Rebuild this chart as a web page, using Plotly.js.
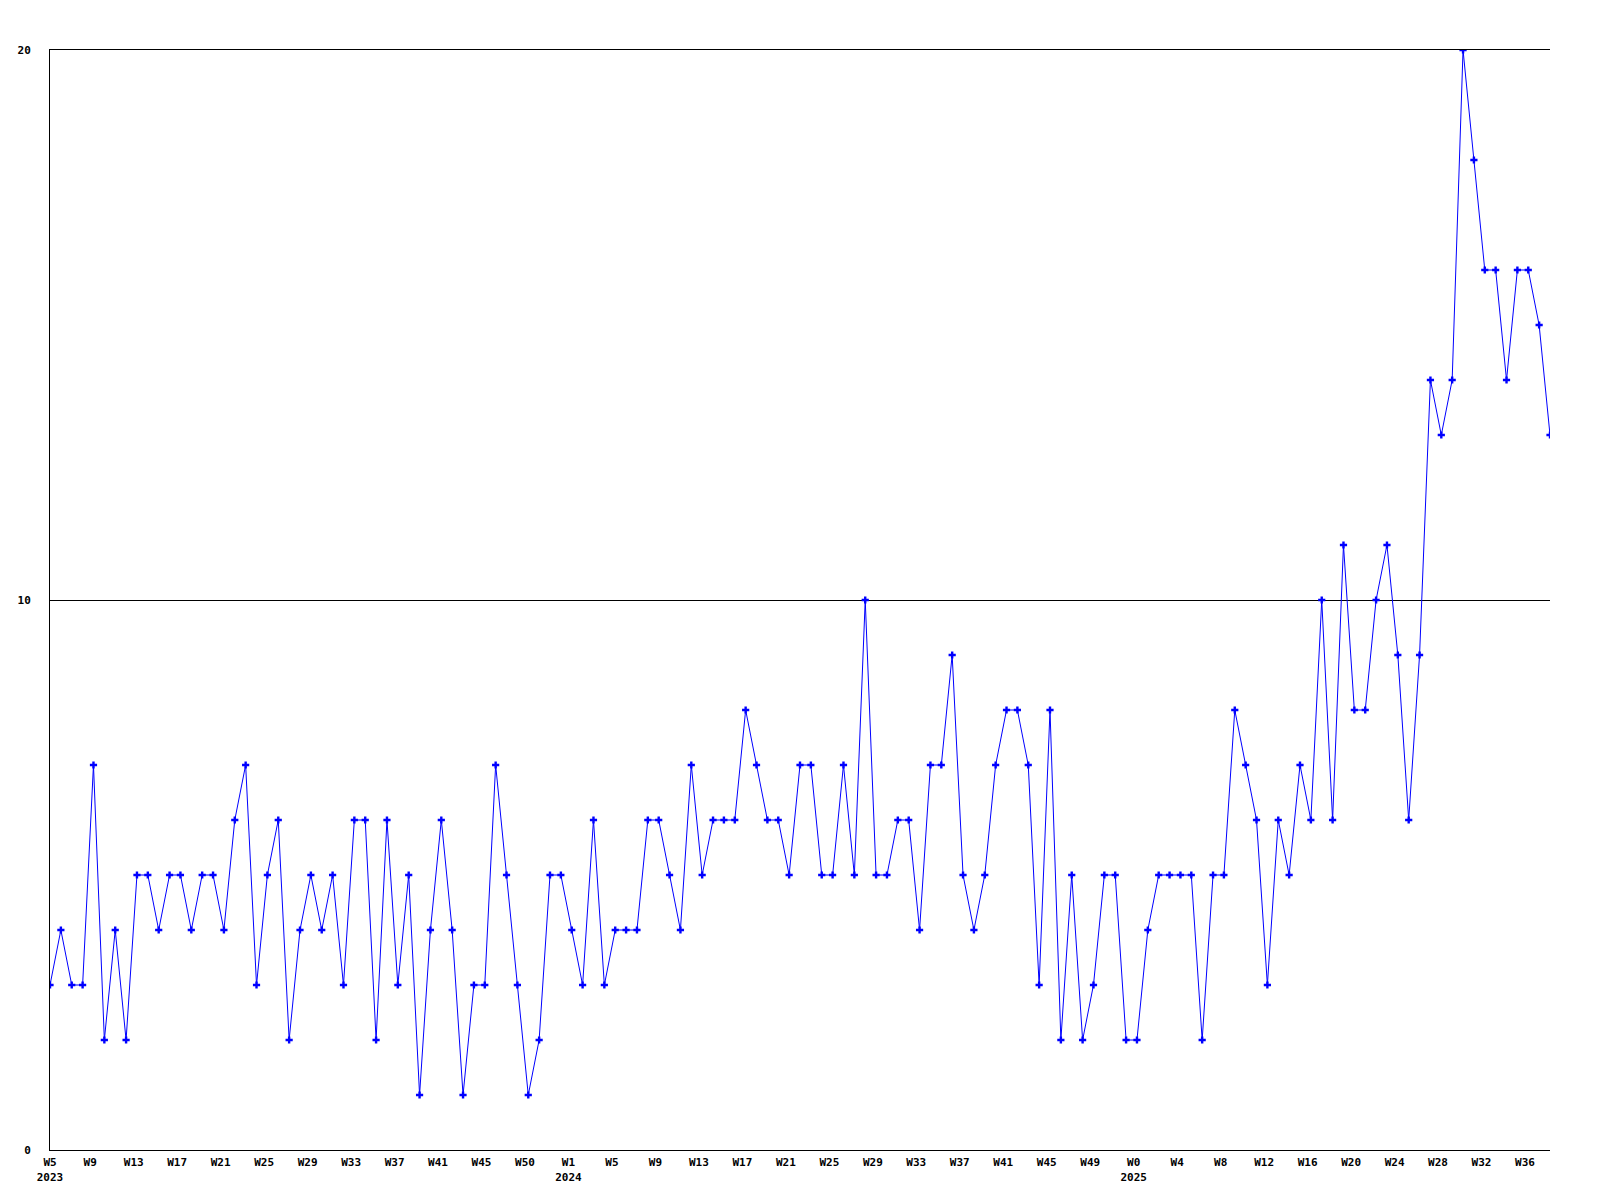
<!DOCTYPE html>
<html>
<head>
<meta charset="utf-8">
<script src="https://cdn.plot.ly/plotly-3.0.1.min.js"></script>
<style>html,body{margin:0;padding:0;background:#fff;}#chart{width:1600px;height:1200px;}</style>
</head>
<body>
<div id="chart"></div>
<script>
// Weekly values, 2023 W5 .. 2025 W38 (one per week)
const values2023 = [3,4,3,3,7,2,4,2,5,5,4,5,5,4,5,5,4,6,7,3,5,6,2,4,5,4,5,3,6,6,2,6,3,5,1,4,6,4,1,3,3,7,5,3,1,2,5,5];
const values2024 = [4,3,6,3,4,4,4,6,6,5,4,7,5,6,6,6,8,7,6,6,5,7,7,5,5,7,5,10,5,5,6,6,4,7,7,9,5,4,5,7,8,8,7,3,8,2,5,2,3,5,5,2];
const values2025 = [2,4,5,5,5,5,2,5,5,8,7,6,3,6,5,7,6,10,6,11,8,8,10,11,9,6,9,14,13,14,20,18,16,16,14,16,16,15,13];
const tickLabels = ["W5<br>2023","W9","W13","W17","W21","W25","W29","W33","W37","W41","W45","W50",
  "W1<br>2024","W5","W9","W13","W17","W21","W25","W29","W33","W37","W41","W45","W49",
  "W0<br>2025","W4","W8","W12","W16","W20","W24","W28","W32","W36"];
const yTicks = [0,10,20];

const values = values2023.concat(values2024, values2025);
const xs = values.map((_, i) => i);
const tickVals = tickLabels.map((_, i) => i === 0 ? 0 : i * 4 - 0.3);

const font = {family: "DejaVu Sans Mono, monospace", size: 11, color: "#000", weight: "bold"};

Plotly.newPlot("chart", [{
  x: xs, y: values, type: "scatter", mode: "lines+markers",
  line: {color: "#0000ff", width: 1},
  marker: {color: "#0000ff", symbol: "cross", size: 6, line: {width: 0}},
  hoverinfo: "skip"
}], {
  width: 1600, height: 1200,
  margin: {l: 50, r: 50, t: 50, b: 50},
  paper_bgcolor: "#fff", plot_bgcolor: "#fff",
  showlegend: false,
  font: font,
  xaxis: {
    range: [0, values.length - 1], tickvals: tickVals, ticktext: tickLabels,
    showgrid: false, zeroline: false, showline: true, mirror: true, linecolor: "#000", linewidth: 1,
    ticks: "", tickfont: font, ticklabelstandoff: 2, fixedrange: true
  },
  yaxis: {
    range: [0, 20], tickvals: yTicks, ticktext: yTicks.map(String),
    showgrid: true, gridcolor: "#000", gridwidth: 1, zeroline: false,
    showline: true, linecolor: "#000", linewidth: 1,
    ticks: "", tickfont: font, ticklabelstandoff: 16, fixedrange: true
  }
}, {staticPlot: true});
</script>
</body>
</html>
